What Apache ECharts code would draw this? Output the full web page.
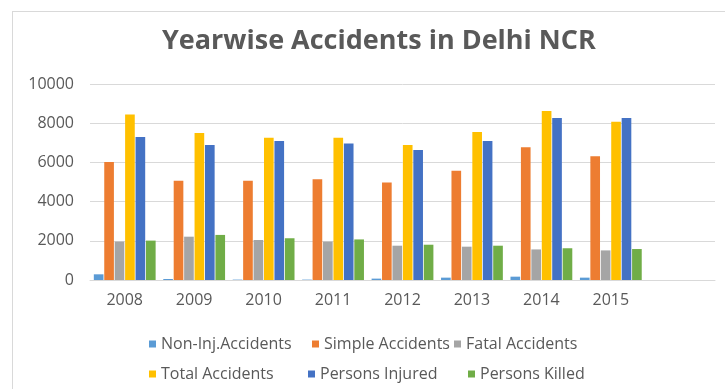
<!DOCTYPE html>
<html><head><meta charset="utf-8">
<script src="https://cdn.jsdelivr.net/npm/echarts@6/dist/echarts.min.js"></script>
<style>html,body{margin:0;padding:0;background:#fff}#c{width:725px;height:389px;}
#frame{position:absolute;left:12px;top:11px;width:720px;height:400px;border:1px solid #d9d9d9;box-sizing:border-box;pointer-events:none}</style>
</head><body><div id="c"></div><div id="frame"></div>
<script>
const categories = ['2008','2009','2010','2011','2012','2013','2014','2015',''];
const nonInj   = [290, 50, 20, 20, 70, 120, 170, 120];
const simple   = [6020, 5070, 5070, 5140, 4980, 5580, 6770, 6310];
const fatal    = [1960, 2210, 2040, 1960, 1750, 1700, 1560, 1510];
const total    = [8450, 7500, 7260, 7260, 6890, 7550, 8620, 8080];
const injured  = [7300, 6890, 7090, 6960, 6630, 7090, 8270, 8270];
const killed   = [2010, 2300, 2130, 2070, 1800, 1750, 1620, 1580];
const seriesNames = ['Non-Inj.Accidents','Simple Accidents','Fatal Accidents','Total Accidents','Persons Injured','Persons Killed'];
const colors = ['#5B9BD5','#ED7D31','#A5A5A5','#FFC000','#4472C4','#70AD47'];
const yTicks = [0, 2000, 4000, 6000, 8000, 10000];

const chart = echarts.init(document.getElementById('c'));
const dataSets = [nonInj, simple, fatal, total, injured, killed];
const font = "'Open Sans', sans-serif";
const legendPos = [[144,331],[307,331],[449,331],[144,361],[303,361],[463,361]];
chart.setOption({
  animation: false,
  color: colors,
  title: {
    text: 'Yearwise Accidents in Delhi NCR',
    left: 157, top: 23,
    textStyle: { fontFamily: font, fontSize: 27, fontWeight: 'bold', color: '#595959' }
  },
  legend: seriesNames.map((n, i) => ({
    data: [n], left: legendPos[i][0], top: legendPos[i][1], itemWidth: 7, itemHeight: 7,
    icon: 'rect', textStyle: { fontFamily: font, fontSize: 16, color: '#595959' }
  })),
  grid: { left: 90, right: 10, top: 84, bottom: 109 },
  xAxis: {
    type: 'category', data: categories,
    axisLine: { lineStyle: { color: '#d9d9d9' } },
    axisTick: { show: false },
    axisLabel: { fontFamily: font, fontSize: 16, color: '#595959', margin: 12 }
  },
  yAxis: {
    type: 'value', min: yTicks[0], max: yTicks[yTicks.length-1], interval: 2000,
    axisLine: { show: false }, axisTick: { show: false },
    splitLine: { lineStyle: { color: '#d9d9d9' } },
    axisLabel: { fontFamily: font, fontSize: 16, color: '#595959', margin: 16, formatter: v => String(v) }
  },
  series: dataSets.map((d, i) => ({
    name: seriesNames[i], type: 'bar', data: d,
    barGap: '8%', barCategoryGap: '11%'
  }))
});
</script></body></html>
